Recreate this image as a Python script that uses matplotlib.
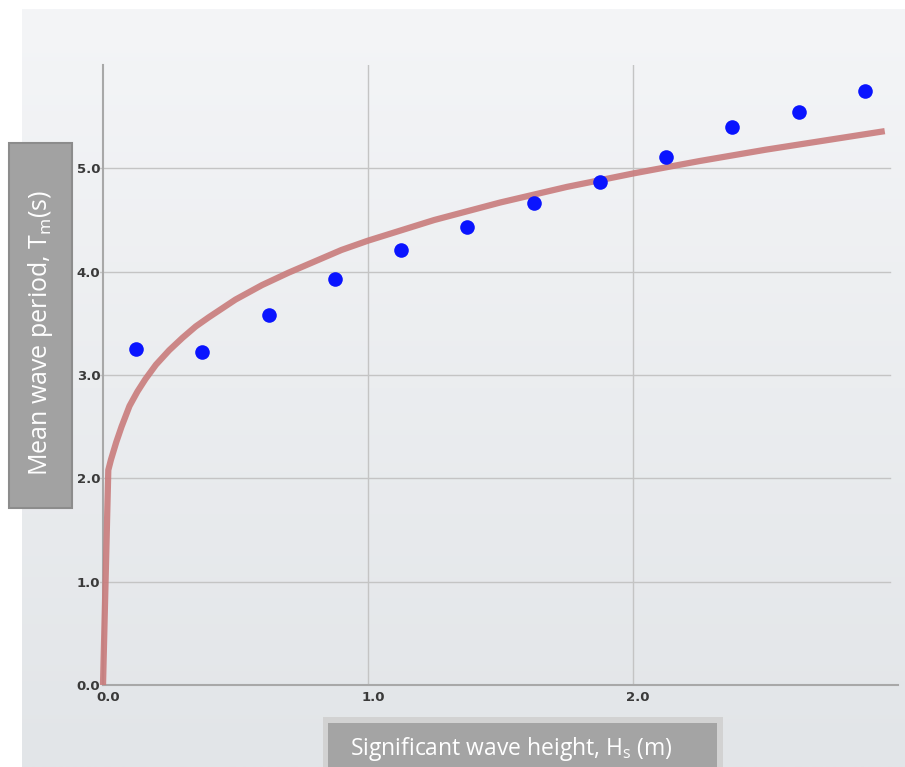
"""
Mean wave period against significant wave height,
scatter of bin means with the fitted curve on top
"""

import matplotlib.pyplot as plt
from matplotlib.patches import Rectangle
import matplotlib.transforms as mtrans
import numpy as np

# bin centres (m) and mean period (s)
hs_bins = [0.125, 0.375, 0.625, 0.875, 1.125, 1.375, 1.625, 1.875, 2.125, 2.375, 2.625, 2.875]
tm_mean = [3.25, 3.22, 3.58, 3.93, 4.21, 4.43, 4.66, 4.87, 5.11, 5.40, 5.55, 5.75]

# fitted curve, sampled by eye
fit_hs = [0.0, 0.02, 0.03, 0.05, 0.07, 0.1, 0.13, 0.16, 0.2, 0.25, 0.3, 0.35, 0.4, 0.5, 0.6, 0.7,
          0.8, 0.9, 1.0, 1.25, 1.5, 1.75, 2.0, 2.25, 2.5, 2.75, 2.95]
fit_tm = [0.0, 2.08, 2.18, 2.35, 2.50, 2.70, 2.84, 2.96, 3.10, 3.24, 3.36, 3.47, 3.56, 3.73, 3.87, 3.99,
          4.10, 4.21, 4.30, 4.50, 4.67, 4.82, 4.95, 5.07, 5.18, 5.28, 5.36]

xticks = [0.0, 1.0, 2.0]
yticks = [0.0, 1.0, 2.0, 3.0, 4.0, 5.0]

W, H = 905, 767
fig = plt.figure(figsize=(W/100., H/100.), dpi=100)
fig.patch.set_facecolor("white")

# grey panel with a soft vertical gradient
bg = fig.add_axes([22./W, 0, 1-22./W, 1-9./H])
top = np.array([0xf4, 0xf5, 0xf7])/255.
bot = np.array([0xe2, 0xe5, 0xe8])/255.
t = np.linspace(0, 1, 256)[:, None]
grad = top[None, :]*(1-t) + bot[None, :]*t
bg.imshow(grad[:, None, :], aspect="auto", extent=[0, 1, 0, 1])
bg.set_axis_off()

# main plot
x0, x1 = 103., 898.
y0, y1 = 685., 65.
ax = fig.add_axes([x0/W, 1-y0/H, (x1-x0)/W, (y0-y1)/H])
ax.set_facecolor("none")
ax.set_xlim(0, (x1-x0)/265.)
ax.set_ylim(0, 6.0)

for v in xticks[1:]:
    ax.axvline(v, color="#c4c4c4", linewidth=1, zorder=1)
for v in yticks[1:]:
    ax.plot([-0.012, 2.97], [v, v], color="#c4c4c4", linewidth=1, zorder=1, clip_on=False)

for s in ["top", "right"]:
    ax.spines[s].set_visible(False)
ax.spines["left"].set_color("#a8a8a8")
ax.spines["bottom"].set_color("#a8a8a8")
ax.spines["left"].set_linewidth(1.5)
ax.spines["bottom"].set_linewidth(1.5)

ax.set_xticks(xticks)
ax.set_yticks(yticks)
ax.set_xticklabels(["%.1f" % v for v in xticks], fontweight="bold")
ax.set_yticklabels(["%.1f" % v for v in yticks], fontweight="bold")
ax.tick_params(length=0, labelsize=9.5, labelcolor="#3a3a3a")
ax.tick_params(axis="x", pad=4)
ax.tick_params(axis="y", pad=2)
# x labels sit a touch right of their gridline
shift = mtrans.ScaledTranslation(5/100., 0, fig.dpi_scale_trans)
for lab in ax.get_xticklabels():
    lab.set_transform(lab.get_transform() + shift)

ax.plot(fit_hs, fit_tm, color="#c97c7c", linewidth=4.5, alpha=0.9, zorder=3,
        solid_capstyle="butt", solid_joinstyle="round", clip_on=False)
ax.plot(hs_bins, tm_mean, "o", color="#0a14ff", markersize=10.5, markeredgewidth=0,
        zorder=4, clip_on=False)

# axis titles sit in grey boxes
fig.patches.append(Rectangle((9./W, 1-508./H), 63./W, 365./H, transform=fig.transFigure,
                             facecolor="#a2a2a2", edgecolor="#8c8c8c", linewidth=1.5))
fig.text(41./W, 1-333./H, r"Mean wave period, T$_\mathregular{m}$(s)", rotation=90,
         ha="center", va="center", color="white", fontsize=18, family="Open Sans")

fig.patches.append(Rectangle((323./W, 0), 400./W, 50./H, transform=fig.transFigure,
                             facecolor="#d2d2d2", edgecolor="none"))
fig.patches.append(Rectangle((328./W, 0), 389./W, 44./H, transform=fig.transFigure,
                             facecolor="#a4a4a4", edgecolor="none"))
fig.text(511./W, 1-749./H, r"Significant wave height, H$_\mathregular{s}$ (m)",
         ha="center", va="center", color="white", fontsize=16.5, family="Open Sans")

fig.savefig("out.png", dpi=100)
